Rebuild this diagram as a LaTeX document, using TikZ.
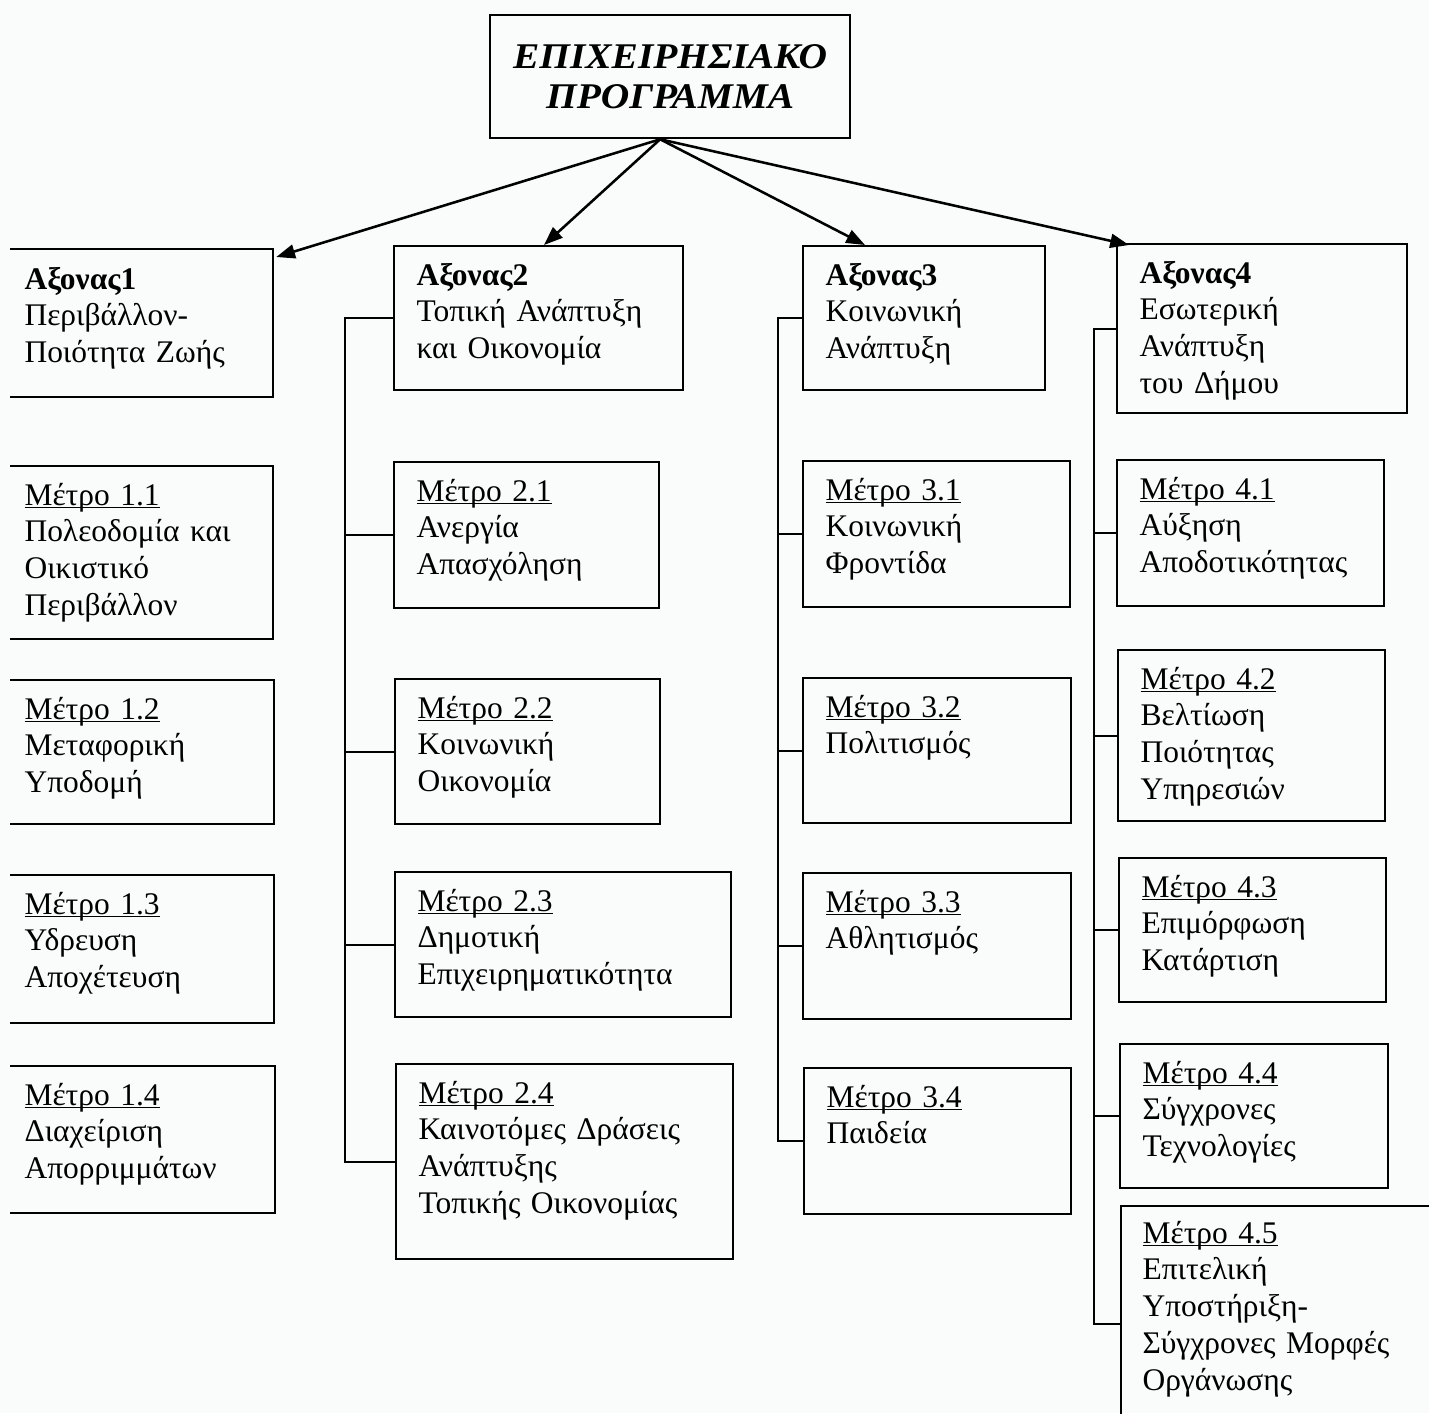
\documentclass[tikz,border=0pt]{standalone}
\usepackage{fontspec}
\setmainfont{Liberation Serif}
\newfontfamily\titlosfont[FakeStretch=1.09]{Liberation Serif}
\usetikzlibrary{arrows.meta,calc,positioning}
\definecolor{charti}{RGB}{250,252,252}
\newdimen\pixel \pixel=0.3733pt
\newcommand\ypo[1]{\setbox0\hbox{#1}\rlap{\rule[-1.3pt]{\wd0}{0.5pt}}\box0}
\tikzset{
  kouti/.style 2 args={draw, line width=0.85pt, anchor=north west, inner sep=0pt,
    minimum width=#1*\pixel, minimum height=#2*\pixel},
  keimeno/.style={anchor=base west, inner sep=0pt, text width=130pt, align=left,
    font=\fontsize{11.75}{13.8}\selectfont},
  grammi/.style={line width=0.85pt},
  belos/.style={line width=0.95pt, -{Triangle[length=7pt,width=5.2pt]}}
}

\begin{document}
\begin{tikzpicture}[x=\pixel, y=-\pixel]
    \useasboundingbox (0,0) rectangle (1429,1413);
    \fill[charti] (0,0) rectangle (1429,1413);
    \clip (10,0) rectangle (1429,1413);

    % title
    \node[kouti={360}{123}, align=center, font=\titlosfont\fontsize{13.5}{14.9}\selectfont\bfseries\itshape] (epix) at (489,14) {ΕΠΙΧΕΙΡΗΣΙΑΚΟ\\ΠΡΟΓΡΑΜΜΑ};
    \coordinate (arxi) at ($(epix.south)+(-10,0)$);

    % Axonas 1
    \node[kouti={271}{148}] (ax1) at (1,248) {};
    \node[keimeno] (ax1t) at ($(ax1.north west)+(23,41)$) {\textbf{Αξονας1}\\Περιβάλλον-\\Ποιότητα Ζωής};
    \node[kouti={271}{173}] (m11) at (1,465) {};
    \node[keimeno] (m11t) at ($(m11.north west)+(23,40)$) {\ypo{Μέτρο 1.1}\\Πολεοδομία και\\Οικιστικό\\Περιβάλλον};
    \node[kouti={272}{144}] (m12) at (1,679) {};
    \node[keimeno] (m12t) at ($(m12.north west)+(23,40)$) {\ypo{Μέτρο 1.2}\\Μεταφορική\\Υποδομή};
    \node[kouti={272}{148}] (m13) at (1,874) {};
    \node[keimeno] (m13t) at ($(m13.north west)+(23,40)$) {\ypo{Μέτρο 1.3}\\Υδρευση\\Αποχέτευση};
    \node[kouti={273}{147}] (m14) at (1,1065) {};
    \node[keimeno] (m14t) at ($(m14.north west)+(23,40)$) {\ypo{Μέτρο 1.4}\\Διαχείριση\\Απορριμμάτων};

    % Axonas 2
    \node[kouti={289}{144}] (ax2) at (393,245) {};
    \node[keimeno] (ax2t) at ($(ax2.north west)+(23,40)$) {\textbf{Αξονας2}\\Τοπική Ανάπτυξη\\και Οικονομία};
    \node[kouti={265}{146}] (m21) at (393,461) {};
    \node[keimeno] (m21t) at ($(m21.north west)+(23,40)$) {\ypo{Μέτρο 2.1}\\Ανεργία\\Απασχόληση};
    \node[kouti={265}{145}] (m22) at (394,678) {};
    \node[keimeno] (m22t) at ($(m22.north west)+(23,40)$) {\ypo{Μέτρο 2.2}\\Κοινωνική\\Οικονομία};
    \node[kouti={336}{145}] (m23) at (394,871) {};
    \node[keimeno] (m23t) at ($(m23.north west)+(23,40)$) {\ypo{Μέτρο 2.3}\\Δημοτική\\Επιχειρηματικότητα};
    \node[kouti={337}{195}] (m24) at (395,1063) {};
    \node[keimeno] (m24t) at ($(m24.north west)+(23,40)$) {\ypo{Μέτρο 2.4}\\Καινοτόμες Δράσεις\\Ανάπτυξης\\Τοπικής Οικονομίας};

    % Axonas 3
    \node[kouti={242}{144}] (ax3) at (802,245) {};
    \node[keimeno] (ax3t) at ($(ax3.north west)+(23,40)$) {\textbf{Αξονας3}\\Κοινωνική\\Ανάπτυξη};
    \node[kouti={267}{146}] (m31) at (802,460) {};
    \node[keimeno] (m31t) at ($(m31.north west)+(23,40)$) {\ypo{Μέτρο 3.1}\\Κοινωνική\\Φροντίδα};
    \node[kouti={268}{145}] (m32) at (802,677) {};
    \node[keimeno] (m32t) at ($(m32.north west)+(23,40)$) {\ypo{Μέτρο 3.2}\\Πολιτισμός};
    \node[kouti={268}{146}] (m33) at (802,872) {};
    \node[keimeno] (m33t) at ($(m33.north west)+(23,40)$) {\ypo{Μέτρο 3.3}\\Αθλητισμός};
    \node[kouti={267}{146}] (m34) at (803,1067) {};
    \node[keimeno] (m34t) at ($(m34.north west)+(23,40)$) {\ypo{Μέτρο 3.4}\\Παιδεία};

    % Axonas 4
    \node[kouti={290}{169}] (ax4) at (1116,243) {};
    \node[keimeno] (ax4t) at ($(ax4.north west)+(23,40)$) {\textbf{Αξονας4}\\Εσωτερική\\Ανάπτυξη\\του Δήμου};
    \node[kouti={267}{146}] (m41) at (1116,459) {};
    \node[keimeno] (m41t) at ($(m41.north west)+(23,40)$) {\ypo{Μέτρο 4.1}\\Αύξηση\\Αποδοτικότητας};
    \node[kouti={267}{171}] (m42) at (1117,649) {};
    \node[keimeno] (m42t) at ($(m42.north west)+(23,40)$) {\ypo{Μέτρο 4.2}\\Βελτίωση\\Ποιότητας\\Υπηρεσιών};
    \node[kouti={267}{144}] (m43) at (1118,857) {};
    \node[keimeno] (m43t) at ($(m43.north west)+(23,40)$) {\ypo{Μέτρο 4.3}\\Επιμόρφωση\\Κατάρτιση};
    \node[kouti={268}{144}] (m44) at (1119,1043) {};
    \node[keimeno] (m44t) at ($(m44.north west)+(23,40)$) {\ypo{Μέτρο 4.4}\\Σύγχρονες\\Τεχνολογίες};
    \node[kouti={320}{236}] (m45) at (1120,1205) {};
    \node[keimeno] (m45t) at ($(m45.north west)+(22,38)$) {\ypo{Μέτρο 4.5}\\Επιτελική\\Υποστήριξη-\\Σύγχρονες Μορφές\\Οργάνωσης};

    % arrows from the title
    \draw[belos] (arxi) -- ($(ax1.north east)+(2,9)$);
    \draw[belos] (arxi) -- ($(ax2.north west)+(151,0)$);
    \draw[belos] (arxi) -- ($(ax3.north west)+(63,0)$);
    \draw[belos] (arxi) -- ($(ax4.north west)+(13,2)$);

    % trunks
    \coordinate (k2) at (345,0);
    \coordinate (k3) at (778,0);
    \coordinate (k4) at (1094,0);
    \draw[grammi] (ax2.west) -- (ax2.west -| k2) -- (m24.west -| k2) -- (m24.west);
    \foreach \n in {m21,m22,m23}
        \draw[grammi] (\n.west) -- (\n.west -| k2);
    \draw[grammi] (ax3.west) -- (ax3.west -| k3) -- (m34.west -| k3) -- (m34.west);
    \foreach \n in {m31,m32,m33}
        \draw[grammi] (\n.west) -- (\n.west -| k3);
    \draw[grammi] (ax4.west) -- (ax4.west -| k4) -- (m45.west -| k4) -- (m45.west);
    \foreach \n in {m41,m42,m43,m44}
        \draw[grammi] (\n.west) -- (\n.west -| k4);
\end{tikzpicture}
\end{document}
